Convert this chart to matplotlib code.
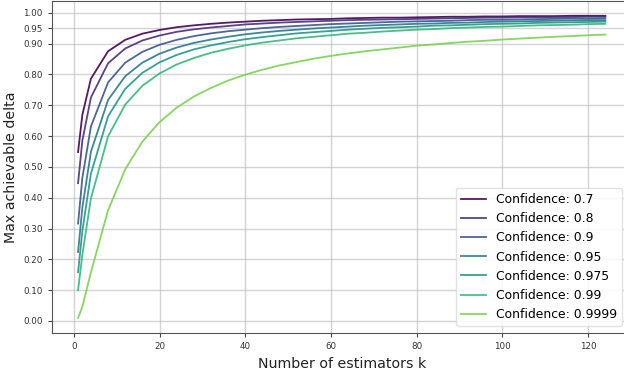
import matplotlib
matplotlib.use('Agg')
import matplotlib.pyplot as plt
import numpy as np

# Fjöldi matara k
k = [1, 2, 4, 8, 12, 16, 20, 24, 28, 32, 36, 40, 44, 48, 52, 56, 60,
     64, 68, 72, 76, 80, 84, 88, 92, 96, 100, 104, 108, 112, 116, 120, 124]

confidences = ['0.7', '0.8', '0.9', '0.95', '0.975', '0.99', '0.9999']

delta_07 = [0.548, 0.669, 0.786, 0.875, 0.912, 0.932, 0.944, 0.953, 0.959, 0.964, 0.968,
            0.971, 0.974, 0.976, 0.978, 0.979, 0.980, 0.982, 0.983, 0.984, 0.984, 0.985,
            0.986, 0.987, 0.987, 0.988, 0.988, 0.989, 0.989, 0.989, 0.990, 0.990, 0.990]
delta_08 = [0.447, 0.585, 0.725, 0.836, 0.884, 0.910, 0.926, 0.938, 0.946, 0.952, 0.957,
            0.962, 0.965, 0.968, 0.970, 0.972, 0.974, 0.976, 0.977, 0.978, 0.979, 0.980,
            0.981, 0.982, 0.983, 0.984, 0.984, 0.985, 0.985, 0.986, 0.986, 0.987, 0.987]
delta_09 = [0.316, 0.464, 0.631, 0.774, 0.838, 0.873, 0.896, 0.912, 0.924, 0.933, 0.940,
            0.945, 0.950, 0.954, 0.957, 0.960, 0.963, 0.965, 0.967, 0.969, 0.971, 0.972,
            0.973, 0.974, 0.976, 0.977, 0.977, 0.978, 0.979, 0.980, 0.981, 0.981, 0.982]
delta_095 = [0.224, 0.368, 0.549, 0.717, 0.794, 0.838, 0.867, 0.887, 0.902, 0.913, 0.922,
             0.930, 0.936, 0.941, 0.945, 0.949, 0.952, 0.955, 0.958, 0.960, 0.962, 0.964,
             0.965, 0.967, 0.968, 0.970, 0.971, 0.972, 0.973, 0.974, 0.975, 0.976, 0.976]
delta_0975 = [0.158, 0.292, 0.478, 0.664, 0.753, 0.805, 0.839, 0.863, 0.881, 0.894, 0.905,
              0.914, 0.921, 0.927, 0.933, 0.937, 0.941, 0.945, 0.948, 0.951, 0.953, 0.955,
              0.958, 0.959, 0.961, 0.963, 0.964, 0.965, 0.967, 0.968, 0.969, 0.970, 0.971]
delta_099 = [0.100, 0.215, 0.398, 0.599, 0.702, 0.763, 0.803, 0.832, 0.853, 0.870, 0.883,
             0.894, 0.903, 0.910, 0.917, 0.922, 0.927, 0.932, 0.935, 0.939, 0.942, 0.945,
             0.947, 0.950, 0.952, 0.954, 0.955, 0.957, 0.959, 0.960, 0.961, 0.963, 0.964]
delta_09999 = [0.010, 0.046, 0.158, 0.359, 0.492, 0.582, 0.645, 0.692, 0.728, 0.756, 0.780,
               0.799, 0.815, 0.829, 0.840, 0.851, 0.860, 0.868, 0.875, 0.881, 0.887, 0.893,
               0.897, 0.902, 0.906, 0.909, 0.913, 0.916, 0.919, 0.922, 0.924, 0.927, 0.929]

deltas = [delta_07, delta_08, delta_09, delta_095, delta_0975, delta_099, delta_09999]

y_ticks = [0.0, 0.1, 0.2, 0.3, 0.4, 0.5, 0.6, 0.7, 0.8, 0.9, 0.95, 1.0]

litir = plt.cm.viridis(np.linspace(0, 0.8, len(confidences)))

fig = plt.figure(figsize=(6.24, 3.70), dpi=100)
ax = fig.add_axes([51.7 / 624, 37 / 370, 580 / 624, 332.3 / 370])

for d, c, col in zip(deltas, confidences, litir):
    ax.plot(k, d, color=col, alpha=0.9, linewidth=1.3, label=f'Confidence: {c}')

ax.set_yticks(y_ticks)
ax.set_yticklabels([f'{t:.2f}' for t in y_ticks])
ax.tick_params(labelsize=6.3, length=3, color='#444444', labelcolor='#333333')
ax.grid(True, color='#b8b8b8', alpha=0.6, linewidth=1.0)
for s in ax.spines.values():
    s.set_color('#555555')

ax.set_xlabel('Number of estimators k', fontsize=10.2, color='#222222')
ax.set_ylabel('Max achievable delta', fontsize=10.2, color='#222222')

# Skýringar neðst til hægri, innan myndar
ax.legend(loc='lower right', fontsize=8.9, framealpha=0.85, edgecolor='#dddddd',
          bbox_to_anchor=(622 / 624, (370 - 326) / 370), bbox_transform=fig.transFigure,
          borderaxespad=0)

plt.savefig('out.png', dpi=100)
plt.close()
